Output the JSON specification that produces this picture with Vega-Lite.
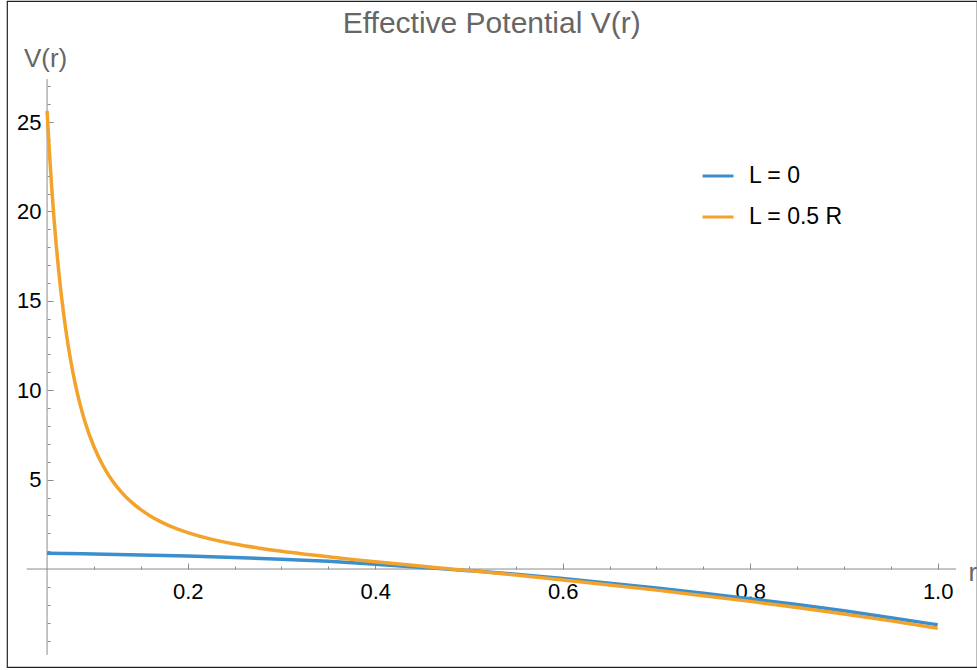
{
  "$schema": "https://vega.github.io/schema/vega-lite/v6.json",
  "width": 970,
  "height": 666,
  "autosize": {"type": "none"},
  "padding": {"left": 7, "top": 1, "right": 0, "bottom": 3},
  "background": "white",
  "config": {
    "view": {"stroke": "#222222", "strokeWidth": 1.2},
    "axis": {"labelOverlap": false, "labelBound": false, "labelFlush": false, "grid": false, "domain": false, "tickColor": "#8c8c8c", "tickWidth": 1}
  },
  "resolve": {"axis": {"x": "independent", "y": "independent"}},
  "layer": [
    {
      "data": {"values": [{}]},
      "mark": {"type": "rule", "color": "#8c8c8c", "strokeWidth": 1},
      "encoding": {
        "x": {
          "datum": 0.0283, "type": "quantitative",
          "scale": {"domain": [0.00725, 1.04195], "nice": false, "zero": false},
          "axis": {
            "orient": "bottom", "offset": -98, "title": null, "labels": false, "tickSize": -3,
            "values": [0.1, 0.15, 0.25, 0.3, 0.35, 0.45, 0.5, 0.55, 0.65, 0.7, 0.75, 0.85, 0.9, 0.95]
          }
        },
        "x2": {"datum": 1.0196},
        "y": {"datum": 0, "type": "quantitative", "axis": null, "scale": {"domain": [-5.48, 31.77], "nice": false, "zero": false}}
      }
    },
    {
      "data": {"values": [{}]},
      "mark": {"type": "rule", "color": "#8c8c8c", "strokeWidth": 1},
      "encoding": {
        "x": {"datum": 0.05, "type": "quantitative", "axis": null, "scale": {"domain": [0.00725, 1.04195], "nice": false, "zero": false}},
        "y": {
          "datum": 27.4, "type": "quantitative",
          "scale": {"domain": [-5.48, 31.77], "nice": false, "zero": false},
          "axis": {
            "orient": "left", "offset": -40.1, "title": null, "labels": false, "tickSize": -3,
            "values": [-4, -3, -2, -1, 1, 2, 3, 4, 6, 7, 8, 9, 11, 12, 13, 14, 16, 17, 18, 19, 21, 22, 23, 24, 26, 27]
          }
        },
        "y2": {"datum": -4.8}
      }
    },
    {
      "data": {"values": [{}]},
      "mark": {"type": "text", "font": "Liberation Sans", "fontSize": 30, "color": "#666666", "align": "center", "baseline": "alphabetic"},
      "encoding": {
        "x": {"datum": 0.5243, "type": "quantitative", "axis": null, "scale": {"domain": [0.00725, 1.04195], "nice": false, "zero": false}},
        "y": {"datum": 29.96, "type": "quantitative", "axis": null, "scale": {"domain": [-5.48, 31.77], "nice": false, "zero": false}},
        "text": {"value": "Effective Potential V(r)"}
      }
    },
    {
      "data": {
        "values": [
          {"r": 0.05, "V": 0.88, "series": "L = 0"},
          {"r": 0.1, "V": 0.84, "series": "L = 0"},
          {"r": 0.15, "V": 0.79, "series": "L = 0"},
          {"r": 0.2, "V": 0.73, "series": "L = 0"},
          {"r": 0.25, "V": 0.65, "series": "L = 0"},
          {"r": 0.3, "V": 0.55, "series": "L = 0"},
          {"r": 0.35, "V": 0.43, "series": "L = 0"},
          {"r": 0.4, "V": 0.27, "series": "L = 0"},
          {"r": 0.45, "V": 0.09, "series": "L = 0"},
          {"r": 0.5, "V": -0.09, "series": "L = 0"},
          {"r": 0.55, "V": -0.29, "series": "L = 0"},
          {"r": 0.6, "V": -0.53, "series": "L = 0"},
          {"r": 0.65, "V": -0.79, "series": "L = 0"},
          {"r": 0.7, "V": -1.06, "series": "L = 0"},
          {"r": 0.75, "V": -1.35, "series": "L = 0"},
          {"r": 0.8, "V": -1.66, "series": "L = 0"},
          {"r": 0.85, "V": -1.99, "series": "L = 0"},
          {"r": 0.9, "V": -2.34, "series": "L = 0"},
          {"r": 0.95, "V": -2.72, "series": "L = 0"},
          {"r": 1.0, "V": -3.12, "series": "L = 0"},
          {"r": 0.05, "V": 25.63, "series": "L = 0.5 R"},
          {"r": 0.0525, "V": 23.3, "series": "L = 0.5 R"},
          {"r": 0.055, "V": 21.29, "series": "L = 0.5 R"},
          {"r": 0.0575, "V": 19.53, "series": "L = 0.5 R"},
          {"r": 0.06, "V": 17.98, "series": "L = 0.5 R"},
          {"r": 0.0625, "V": 16.62, "series": "L = 0.5 R"},
          {"r": 0.065, "V": 15.41, "series": "L = 0.5 R"},
          {"r": 0.07, "V": 13.37, "series": "L = 0.5 R"},
          {"r": 0.075, "V": 11.72, "series": "L = 0.5 R"},
          {"r": 0.08, "V": 10.37, "series": "L = 0.5 R"},
          {"r": 0.085, "V": 9.25, "series": "L = 0.5 R"},
          {"r": 0.09, "V": 8.31, "series": "L = 0.5 R"},
          {"r": 0.1, "V": 6.84, "series": "L = 0.5 R"},
          {"r": 0.11, "V": 5.75, "series": "L = 0.5 R"},
          {"r": 0.12, "V": 4.91, "series": "L = 0.5 R"},
          {"r": 0.13, "V": 4.26, "series": "L = 0.5 R"},
          {"r": 0.14, "V": 3.74, "series": "L = 0.5 R"},
          {"r": 0.15, "V": 3.32, "series": "L = 0.5 R"},
          {"r": 0.16, "V": 2.97, "series": "L = 0.5 R"},
          {"r": 0.17, "V": 2.68, "series": "L = 0.5 R"},
          {"r": 0.18, "V": 2.43, "series": "L = 0.5 R"},
          {"r": 0.2, "V": 2.04, "series": "L = 0.5 R"},
          {"r": 0.225, "V": 1.67, "series": "L = 0.5 R"},
          {"r": 0.25, "V": 1.4, "series": "L = 0.5 R"},
          {"r": 0.275, "V": 1.18, "series": "L = 0.5 R"},
          {"r": 0.3, "V": 0.99, "series": "L = 0.5 R"},
          {"r": 0.325, "V": 0.83, "series": "L = 0.5 R"},
          {"r": 0.35, "V": 0.69, "series": "L = 0.5 R"},
          {"r": 0.375, "V": 0.54, "series": "L = 0.5 R"},
          {"r": 0.4, "V": 0.41, "series": "L = 0.5 R"},
          {"r": 0.425, "V": 0.28, "series": "L = 0.5 R"},
          {"r": 0.45, "V": 0.15, "series": "L = 0.5 R"},
          {"r": 0.475, "V": 0.03, "series": "L = 0.5 R"},
          {"r": 0.5, "V": -0.09, "series": "L = 0.5 R"},
          {"r": 0.55, "V": -0.33, "series": "L = 0.5 R"},
          {"r": 0.6, "V": -0.61, "series": "L = 0.5 R"},
          {"r": 0.65, "V": -0.89, "series": "L = 0.5 R"},
          {"r": 0.7, "V": -1.18, "series": "L = 0.5 R"},
          {"r": 0.75, "V": -1.49, "series": "L = 0.5 R"},
          {"r": 0.8, "V": -1.81, "series": "L = 0.5 R"},
          {"r": 0.85, "V": -2.15, "series": "L = 0.5 R"},
          {"r": 0.9, "V": -2.51, "series": "L = 0.5 R"},
          {"r": 0.95, "V": -2.9, "series": "L = 0.5 R"},
          {"r": 1.0, "V": -3.31, "series": "L = 0.5 R"}
        ]
      },
      "mark": {"type": "line", "strokeWidth": 3.5, "interpolate": "monotone"},
      "encoding": {
        "x": {
          "field": "r",
          "type": "quantitative",
          "scale": {"domain": [0.00725, 1.04195], "nice": false, "zero": false},
          "axis": {
            "orient": "bottom",
            "title": "r",
            "titleX": 961,
            "titleY": 11,
            "titleAlign": "left",
            "titleBaseline": "alphabetic",
            "titleFont": "Liberation Sans",
            "titleFontSize": 26,
            "titleFontWeight": "normal",
            "titleColor": "#666666",
            "offset": -98,
            "values": [0.2, 0.4, 0.6, 0.8, 1.0],
            "format": ".1f",
            "tickSize": -6,
            "labelFont": "Liberation Sans",
            "labelFontSize": 22,
            "labelColor": "black",
            "labelPadding": 18,
            "labelBaseline": "top"
          }
        },
        "y": {
          "field": "V",
          "type": "quantitative",
          "scale": {"domain": [-5.48, 31.77], "nice": false, "zero": false},
          "axis": {
            "orient": "left",
            "title": "V(r)",
            "titleX": -2,
            "titleY": 65.7,
            "titleAngle": 0,
            "titleAlign": "center",
            "titleBaseline": "alphabetic",
            "titleFont": "Liberation Sans",
            "titleFontSize": 26,
            "titleFontWeight": "normal",
            "titleColor": "#666666",
            "offset": -40.1,
            "values": [5, 10, 15, 20, 25],
            "format": "d",
            "tickSize": -6,
            "labelFont": "Liberation Sans",
            "labelFontSize": 22,
            "labelColor": "black",
            "labelPadding": 12,
            "labelBaseline": "middle"
          }
        },
        "color": {
          "field": "series",
          "type": "nominal",
          "scale": {"domain": ["L = 0", "L = 0.5 R"], "range": ["#3c8fcc", "#f3a32b"]},
          "legend": {
            "orient": "none",
            "legendX": 694,
            "legendY": 158,
            "title": null,
            "padding": 0,
            "symbolType": "stroke",
            "symbolSize": 961,
            "symbolStrokeWidth": 3,
            "labelFont": "Liberation Sans",
            "labelFontSize": 23,
            "labelColor": "black",
            "labelOffset": 14,
            "rowPadding": 12
          }
        }
      }
    }
  ]
}
